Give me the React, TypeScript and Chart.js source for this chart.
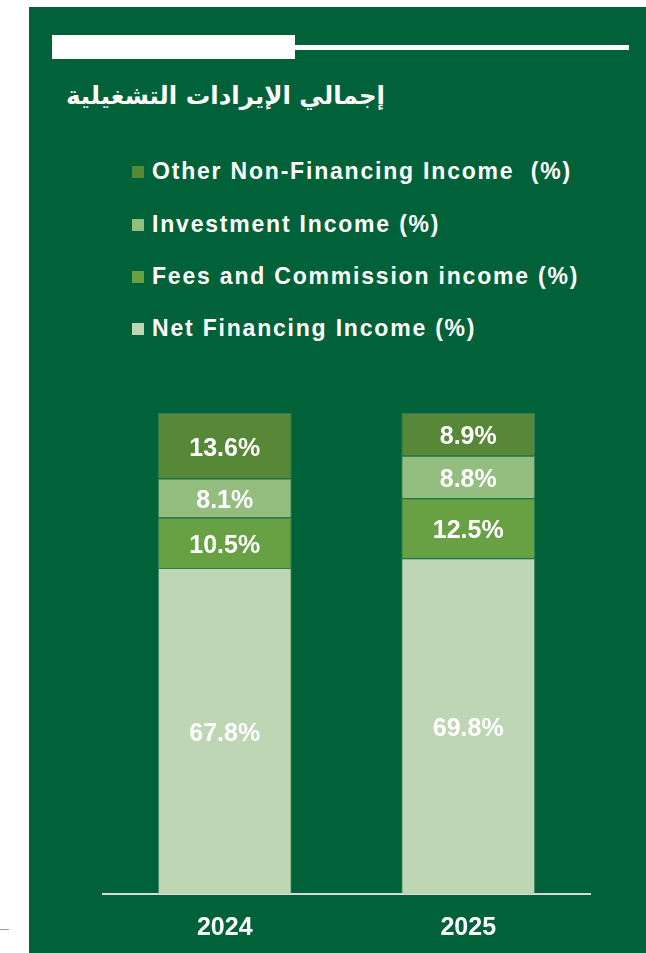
import React, { useEffect, useRef } from "react";
import { Chart, registerables } from "chart.js";

Chart.register(...registerables);

// ---- data ----
const categories = ["2024", "2025"];
const netFinancingIncome = [67.8, 69.8];
const feesCommissionIncome = [10.5, 12.5];
const investmentIncome = [8.1, 8.8];
const otherNonFinancingIncome = [13.6, 8.9];

const seriesLabels = [
  "Net Financing Income (%)",
  "Fees and Commission income (%)",
  "Investment Income (%)",
  "Other Non-Financing Income  (%)",
];
const seriesColors = ["#bed6b4", "#67a143", "#93be80", "#568837"];
const titleText = "إجمالي الإيرادات التشغيلية";

const PANEL_GREEN = "#01623a";
const FONT = "'Liberation Sans', Arial, sans-serif";

const segmentLabels = {
  id: "segmentLabels",
  afterDatasetsDraw(chart: any) {
    const ctx = chart.ctx;
    ctx.save();
    ctx.fillStyle = "#ffffff";
    ctx.font = `bold 25px ${FONT}`;
    ctx.textAlign = "center";
    ctx.textBaseline = "middle";
    chart.data.datasets.forEach((ds: any, i: number) => {
      const meta = chart.getDatasetMeta(i);
      meta.data.forEach((bar: any, j: number) => {
        const p = bar.getProps(["x", "y", "base"], true);
        ctx.fillText(Number(ds.data[j]).toFixed(1) + "%", p.x, (p.y + p.base) / 2 + 3);
      });
    });
    ctx.restore();
  },
};

export default function App() {
  const canvasRef = useRef<HTMLCanvasElement | null>(null);

  useEffect(() => {
    if (!canvasRef.current) return;
    const seriesData = [netFinancingIncome, feesCommissionIncome, investmentIncome, otherNonFinancingIncome];
    const chart = new Chart(canvasRef.current, {
      type: "bar",
      data: {
        labels: categories,
        datasets: seriesData.map((d, i) => ({
          label: seriesLabels[i],
          data: d,
          backgroundColor: seriesColors[i],
          borderColor: "rgba(255,255,255,0.18)",
          borderWidth: 1,
          categoryPercentage: 0.55,
          barPercentage: 1,
        })),
      },
      options: {
        responsive: false,
        animation: false,
        layout: { padding: { left: 74, right: 56, top: 33, bottom: 26 } },
        plugins: {
          legend: { display: false },
          tooltip: { enabled: false },
        },
        scales: {
          x: {
            stacked: true,
            grid: { display: false },
            border: { display: true, color: "#d9d9d9", width: 2 },
            ticks: {
              color: "#ffffff",
              padding: 11,
              font: { family: FONT, size: 25, weight: "bold" },
            },
          },
          y: {
            stacked: true,
            display: false,
            min: 0,
            max: 100,
          },
        },
      },
      plugins: [segmentLabels],
    });
    return () => chart.destroy();
  }, []);

  const legendOrder = [3, 2, 1, 0];
  const legendTops = [159, 212, 264, 316];

  return (
    <div
      style={{
        position: "fixed",
        left: 0,
        top: 0,
        width: 646,
        height: 953,
        background: "#ffffff",
        overflow: "hidden",
        fontFamily: FONT,
      }}
    >
      <div style={{ position: "absolute", left: 0, top: 929, width: 9, height: 1, background: "#9a9a9a" }} />
      <div
        style={{
          position: "absolute",
          left: 29,
          top: 7,
          width: 617,
          height: 946,
          background: PANEL_GREEN,
        }}
      />
      {/* header bars */}
      <div style={{ position: "absolute", left: 52, top: 35, width: 243, height: 24, background: "#ffffff" }} />
      <div style={{ position: "absolute", left: 295, top: 45, width: 334, height: 5, background: "#ffffff" }} />
      {/* title */}
      <div
        style={{
          position: "absolute",
          right: 261,
          top: 80,
          direction: "rtl",
          color: "#ffffff",
          fontWeight: "bold",
          fontSize: 24.5,
          lineHeight: "32px",
          whiteSpace: "nowrap",
          fontFamily: "'DejaVu Sans', sans-serif",
        }}
      >
        {titleText}
      </div>
      {/* legend */}
      {legendOrder.map((idx, k) => (
        <div
          key={idx}
          style={{
            position: "absolute",
            left: 132,
            top: legendTops[k],
            height: 24,
            lineHeight: "24px",
            whiteSpace: "nowrap",
          }}
        >
          <span
            style={{
              position: "absolute",
              left: 0,
              top: 7,
              width: 12,
              height: 12,
              background: seriesColors[idx],
            }}
          />
          <span
            style={{
              position: "absolute",
              left: 20,
              top: 0,
              color: "#ffffff",
              fontWeight: "bold",
              fontSize: 23,
              letterSpacing: "1.8px",
              whiteSpace: "pre",
            }}
          >
            {seriesLabels[idx]}
          </span>
        </div>
      ))}
      <canvas
        ref={canvasRef}
        width={617}
        height={600}
        style={{ position: "absolute", left: 29, top: 380, width: 617, height: 600 }}
      />
    </div>
  );
}
